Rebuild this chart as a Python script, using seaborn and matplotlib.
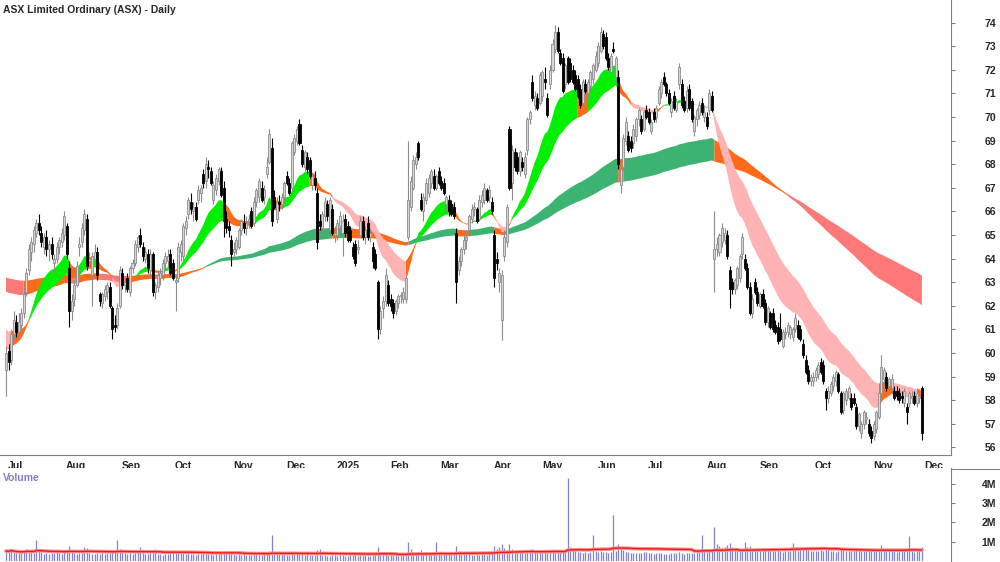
import numpy as np
import pandas as pd
import matplotlib
matplotlib.use("Agg")
import matplotlib.pyplot as plt
import matplotlib.transforms as mtransforms
import seaborn as sns

# === Daily candles (open, high, low, close) ===
ohlc_2024_07 = [(59.3,60.3,58.2,60.0),(60.1,60.4,59.3,59.6),(59.7,61.0,59.5,60.8),(60.8,61.8,60.6,61.4),
    (61.3,61.6,60.7,60.9),(60.9,61.7,60.7,61.3),(61.2,61.9,61.0,61.7),(61.7,62.7,61.5,62.5),
    (62.6,63.6,62.4,63.4),(63.5,64.6,63.3,64.4),(64.3,64.9,63.9,64.7),(64.6,65.4,64.3,65.2),
    (65.1,65.7,64.9,65.5),(65.5,65.9,65.0,65.2),(65.1,65.4,64.5,64.7),(64.5,65.1,64.2,64.9),
    (64.9,65.2,64.1,64.4),(64.4,64.8,63.9,64.6),(64.6,64.9,64.0,64.2),(63.8,64.2,63.4,64.0),
    (64.0,64.7,63.8,64.5),(64.5,64.9,64.2,64.8),(64.7,65.3,64.5,65.1)]
ohlc_2024_08 = [(65.0,66.0,64.8,65.8),(65.4,65.5,64.0,64.2),(63.6,63.9,61.1,61.8),(61.8,62.5,61.4,62.2),
    (62.3,63.1,62.0,62.9),(62.9,63.9,62.8,63.7),(64.5,64.9,64.1,64.6),(64.7,65.5,64.5,65.3),
    (65.2,66.1,65.0,65.9),(65.7,65.9,63.5,63.7),(63.9,64.3,63.7,64.0),(63.3,64.3,62.0,64.1),
    (64.0,64.6,63.7,64.3),(64.3,64.5,63.1,63.3),(62.5,62.6,62.0,62.2),(62.1,62.6,61.9,62.5),
    (62.4,62.9,62.2,62.7),(62.6,63.0,62.3,62.9),(62.8,63.0,61.9,62.0),(61.9,62.0,60.6,61.0),
    (61.2,61.6,60.9,61.1),(61.2,62.1,61.0,61.9)]
ohlc_2024_09 = [(62.0,63.7,61.9,63.5),(63.4,63.6,62.7,62.9),(62.9,63.2,62.6,63.0),(63.2,63.4,62.6,62.7),
    (62.6,63.7,62.4,63.6),(63.6,64.0,63.4,63.8),(63.8,64.8,63.7,64.6),(64.5,65.0,64.3,64.9),
    (65.0,65.3,64.5,64.6),(64.5,64.7,63.9,64.1),(64.0,64.5,63.8,64.3),(64.2,64.4,63.4,63.6),
    (63.5,64.4,63.3,64.2),(64.2,64.3,62.4,62.6),(62.6,63.0,62.3,62.9),(62.8,63.5,62.6,63.3),
    (63.2,63.6,62.9,63.4),(63.3,64.0,63.1,63.8),(63.8,64.3,63.5,64.1),(63.9,64.4,63.6,64.1),
    (64.2,64.4,63.3,63.4)]
ohlc_2024_10 = [(63.8,64.0,63.1,63.2),(63.0,63.3,61.8,63.1),(63.2,64.7,63.0,64.5),(64.3,64.8,63.9,64.6),
    (64.1,65.5,63.9,65.4),(65.3,65.8,65.0,65.6),(65.9,66.6,65.7,66.5),(66.4,66.8,65.9,66.1),
    (66.0,66.4,65.6,66.2),(66.2,66.4,65.6,65.7),(66.5,67.1,66.3,66.9),(66.8,67.1,66.4,67.0),
    (67.6,67.8,67.0,67.2),(67.3,68.3,67.0,68.0),(67.9,68.2,67.4,67.8),(67.7,67.9,67.1,67.2),
    (66.5,67.3,66.3,67.1),(66.9,67.6,66.7,67.4),(67.3,67.9,67.1,67.8),(67.7,67.9,66.6,66.7),
    (67.0,67.3,64.9,65.6),(65.7,66.0,65.1,65.3),(65.4,65.6,64.9,65.2)]
ohlc_2024_11 = [(64.8,65.0,63.7,64.2),(64.3,64.7,64.0,64.4),(64.4,64.9,64.2,64.8),(64.5,65.3,64.4,65.2),
    (65.2,65.7,65.0,65.6),(65.5,65.9,65.1,65.3),(65.3,65.8,65.0,65.5),(65.6,65.9,65.3,65.6),
    (66.0,66.2,65.3,65.4),(65.5,66.6,65.4,66.4),(66.4,67.0,66.2,66.9),(66.6,67.4,66.4,67.3),
    (67.0,67.3,66.4,66.5),(66.6,67.1,66.3,66.9),(67.6,68.3,67.4,67.9),(68.1,69.5,68.0,69.3),
    (68.7,69.1,65.4,65.6),(66.6,66.9,66.1,66.2),(65.7,66.6,65.5,66.4),(66.4,66.7,66.0,66.3),
    (66.3,66.8,66.1,66.6)]
ohlc_2024_12 = [(66.6,67.3,66.4,67.2),(67.5,67.7,67.1,67.2),(67.2,67.4,66.7,66.8),(67.0,69.0,66.9,68.9),
    (68.5,69.3,68.4,69.1),(69.0,69.6,68.8,69.5),(69.7,69.9,68.8,68.9),(68.6,68.8,67.9,68.0),
    (67.9,68.6,67.7,68.5),(68.3,68.5,67.6,67.8),(68.2,68.3,67.4,67.5),(67.1,67.6,66.9,67.5),
    (67.4,67.7,66.9,67.1),(66.8,67.0,64.4,64.7),(65.6,65.9,65.2,65.4),(65.3,66.0,65.1,65.9),
    (65.8,66.6,65.6,66.4),(66.3,66.5,65.6,65.8),(65.2,66.6,65.0,66.5),(66.1,66.3,65.0,65.1)]
ohlc_2025_01 = [(65.0,65.4,64.7,65.1),(65.0,65.7,64.8,65.5),(65.4,66.0,65.2,65.8),(65.1,65.9,64.1,65.6),
    (65.7,65.9,64.9,65.1),(65.4,65.6,64.7,64.8),(65.2,65.4,64.7,64.8),(64.5,64.7,64.0,64.1),
    (64.6,64.8,63.7,63.8),(64.4,64.8,64.2,64.5),(65.0,65.8,64.9,65.6),(65.6,65.8,64.8,64.9),
    (64.9,65.4,64.6,65.2),(65.5,65.8,64.8,64.9),(64.9,65.3,64.7,65.1),(64.5,64.7,63.6,63.9),
    (64.2,64.4,63.5,63.6),(63.0,63.1,60.6,61.0),(61.0,62.0,60.8,61.8),(61.9,62.4,61.5,62.2),
    (62.2,63.6,62.0,63.3)]
ohlc_2025_02 = [(62.9,63.1,62.0,62.1),(62.3,62.5,61.8,62.0),(62.1,62.3,61.5,61.7),(61.8,62.3,61.6,62.2),
    (62.1,62.5,61.9,62.4),(62.4,62.6,62.1,62.4),(62.3,62.8,62.1,62.6),(62.3,63.3,62.1,63.2),
    (64.9,69.0,64.8,66.5),(66.2,67.5,66.0,67.3),(67.0,68.4,66.9,68.2),(68.0,68.5,67.8,68.3),
    (68.9,69.0,68.2,68.3),(66.5,66.8,66.0,66.1),(66.0,66.8,65.6,66.6),(66.5,67.4,66.3,67.2),
    (66.8,67.6,66.6,67.4),(67.2,67.8,67.0,67.7),(67.5,67.8,66.9,67.0),(67.0,67.6,66.9,67.5)]
ohlc_2025_03 = [(67.7,67.9,67.1,67.2),(67.3,67.5,66.9,67.0),(67.2,67.4,66.7,66.8),(66.3,66.7,66.0,66.6),
    (66.5,66.7,65.8,66.0),(66.3,66.5,65.8,65.9),(66.2,66.4,65.7,65.8),(65.1,65.3,62.1,63.0),
    (63.5,64.1,63.3,63.9),(63.9,64.5,63.7,64.4),(64.4,65.0,64.2,64.8),(64.8,65.2,64.4,64.9),
    (65.2,65.9,65.0,65.8),(65.7,66.3,65.5,66.1),(66.1,66.4,65.8,66.2),(66.1,66.2,65.5,65.6),
    (65.7,66.7,65.6,66.5),(66.4,66.9,66.2,66.7),(66.5,67.2,66.3,67.0),(66.9,67.0,66.4,66.5),
    (66.6,67.1,66.4,66.9)]
ohlc_2025_04 = [(66.4,66.6,65.9,66.0),(65.0,65.2,62.8,63.2),(64.0,64.3,63.5,63.8),(63.0,63.6,62.6,63.4),
    (61.4,63.5,60.55,63.3),(64.1,65.2,63.9,64.9),(64.7,66.3,64.5,66.2),(69.5,69.6,66.9,67.0),
    (67.2,68.8,66.5,68.6),(68.5,68.7,67.7,67.9),(68.3,68.5,67.6,67.7),(67.7,68.6,67.5,68.5),
    (68.1,68.3,67.7,67.9),(67.6,68.5,67.4,68.3),(68.6,70.0,68.4,69.9),(69.9,70.3,69.7,70.2),
    (71.5,71.8,70.7,70.8),(70.5,71.1,70.3,70.9),(70.8,71.0,70.3,70.4)]
ohlc_2025_05 = [(70.6,71.9,70.5,71.8),(70.9,72.0,70.7,71.9),(71.6,72.1,71.2,71.5),(70.8,71.0,70.0,70.1),
    (71.4,72.2,71.2,72.0),(72.0,73.3,71.9,73.1),(72.9,73.9,72.7,73.6),(73.6,73.8,72.7,72.8),
    (72.7,72.9,72.2,72.3),(72.5,72.7,71.0,71.1),(71.4,72.3,71.2,72.2),(72.5,72.6,71.4,71.5),
    (72.3,72.5,71.5,71.6),(72.0,72.2,71.4,71.5),(71.8,72.0,71.1,71.2),(71.6,71.8,70.8,70.9),
    (71.2,71.4,70.4,70.5),(70.6,71.6,70.4,71.5),(71.4,71.6,71.0,71.1),(71.0,71.6,70.8,71.5),
    (71.3,72.0,71.1,71.9),(71.6,72.3,71.4,72.2)]
ohlc_2025_06 = [(72.0,72.8,71.9,72.6),(72.3,73.2,72.1,73.0),(72.8,73.8,72.7,73.6),(73.5,73.7,72.9,73.0),
    (73.4,73.6,72.4,72.5),(72.5,72.7,72.0,72.1),(71.9,72.7,71.7,72.6),(72.9,73.2,72.7,72.8),
    (71.7,72.6,71.5,72.5),(71.7,72.0,67.8,68.0),(67.1,68.0,66.8,67.8),(67.9,69.3,67.7,69.1),
    (69.0,70.0,68.8,69.8),(69.2,69.4,68.5,68.6),(69.0,69.2,68.5,68.7),(68.9,69.7,68.7,69.5),
    (69.2,70.0,69.0,69.9),(69.9,70.4,69.6,70.3),(69.9,70.1,69.3,69.4),(69.5,70.3,69.4,70.2)]
ohlc_2025_07 = [(70.3,70.5,69.9,70.0),(70.2,70.4,69.7,69.8),(69.4,69.9,69.3,69.8),(70.2,70.4,69.8,69.9),
    (70.0,70.5,69.8,70.4),(70.6,71.3,70.5,71.2),(71.0,71.6,70.8,71.5),(71.7,71.9,71.3,71.4),
    (71.4,71.5,70.9,71.0),(71.0,71.2,70.5,70.6),(70.2,70.8,70.0,70.7),(70.9,71.1,70.3,70.4),
    (70.3,70.8,70.2,70.7),(71.4,72.3,71.2,72.1),(71.4,71.6,70.4,70.5),(70.7,70.9,70.2,70.3),
    (70.4,71.3,70.2,71.1),(71.2,71.4,70.3,70.4),(70.7,70.8,69.8,69.9),(69.4,70.1,69.2,70.0),
    (69.9,70.4,69.6,70.3),(70.1,70.7,69.9,70.5),(70.6,70.8,70.1,70.2)]
ohlc_2025_08 = [(70.0,70.5,69.8,70.2),(70.0,70.2,69.5,69.6),(70.3,71.2,70.1,71.0),(70.9,71.1,70.2,70.3),
    (64.0,66.0,62.6,64.4),(64.4,64.9,64.1,64.6),(64.3,65.1,64.1,65.0),(64.7,65.5,64.5,65.3),
    (64.8,65.3,64.6,65.1),(65.0,65.2,64.0,64.1),(63.5,63.7,61.9,62.7),(63.0,63.2,62.5,62.7),
    (62.7,63.2,62.5,63.1),(62.9,63.7,62.7,63.6),(63.2,64.2,63.0,64.1),(64.2,65.1,64.0,64.9),
    (64.0,64.2,63.5,63.6),(63.6,63.8,62.7,62.8),(62.8,63.0,61.6,61.7),(61.7,62.5,61.5,62.3),
    (63.0,63.2,62.5,62.6)]
ohlc_2025_09 = [(62.6,62.8,62.0,62.1),(62.0,62.6,61.9,62.5),(62.5,62.7,61.9,62.0),(62.1,62.3,61.2,61.3),
    (61.3,62.0,61.1,61.9),(61.7,61.8,61.0,61.1),(61.7,61.9,60.9,61.0),(61.2,61.4,60.8,60.9),
    (61.1,61.3,60.4,60.5),(61.0,61.7,60.5,60.6),(60.3,61.0,60.2,60.9),(60.8,61.1,60.6,60.9),
    (60.9,61.3,60.7,61.2),(60.8,61.2,60.6,61.1),(60.7,61.1,60.5,61.0),(61.0,61.7,60.9,61.5),
    (61.2,61.4,60.6,60.7),(61.0,61.2,60.5,60.6),(60.4,60.6,59.8,59.9),(59.7,59.9,59.1,59.2),
    (59.3,59.5,58.7,58.8),(58.8,59.1,58.6,59.0)]
ohlc_2025_10 = [(58.8,59.2,58.6,59.0),(59.0,59.4,58.8,59.3),(59.1,59.6,58.9,59.5),(59.6,59.8,59.1,59.2),
    (59.5,59.7,58.7,58.8),(58.4,58.5,57.6,58.1),(58.1,58.6,57.9,58.4),(58.3,58.8,58.2,58.7),
    (58.6,59.1,58.4,59.0),(58.8,59.3,58.6,59.2),(59.1,59.2,58.3,58.4),(58.3,58.4,57.4,57.5),
    (57.6,58.4,57.4,58.3),(58.0,58.5,57.8,58.4),(58.1,58.6,58.0,58.5),(58.1,58.3,57.6,57.7),
    (58.1,58.3,57.8,57.9),(57.7,57.9,56.8,56.9),(56.9,57.5,56.7,57.4),(56.6,57.1,56.4,57.0),
    (57.0,57.6,56.8,57.5),(57.2,57.5,57.0,57.3),(57.0,57.2,56.5,56.6)]
ohlc_2025_11 = [(56.7,56.9,56.2,56.4),(56.5,57.1,56.3,57.0),(56.8,57.6,56.6,57.5),(57.3,58.4,57.2,58.3),
    (58.3,59.9,58.1,59.4),(58.9,59.4,58.7,59.3),(59.0,59.2,58.4,58.5),(58.6,59.0,58.4,58.9),
    (58.5,59.1,58.3,58.9),(58.4,58.6,58.0,58.1),(58.4,58.6,58.0,58.2),(58.3,58.5,57.9,58.0),
    (58.2,58.4,57.9,58.1),(57.9,58.5,57.7,58.4),(57.7,57.9,57.0,57.5),(57.9,58.4,57.7,58.3),
    (58.1,58.4,57.9,58.1),(58.2,58.4,57.8,57.9),(57.9,58.5,57.7,58.3),(58.1,58.3,57.9,58.2)]
ohlc_2025_12 = [(58.5,58.6,56.3,56.6)]

# === Daily volume, thousands of shares ===
vol_2024_07 = [520,480,610,450,420,390,460,510,600,550,480,420,1100,520,450,380,410,360,430,390,470,420,380]
vol_2024_08 = [480,520,760,560,430,380,410,440,720,690,420,380,350,400,370,420,360,390,410,450,520,1100]
vol_2024_09 = [620,450,390,360,410,380,420,450,740,400,380,360,420,390,610,380,350,330,370,340,390]
vol_2024_10 = [420,480,450,390,410,380,420,360,350,330,370,340,400,450,380,350,330,360,340,390,430,520,380]
vol_2024_11 = [420,360,330,350,310,340,330,300,320,360,340,310,330,380,450,520,1350,410,380,340,390]
vol_2024_12 = [350,320,300,480,420,380,440,360,330,340,310,300,330,560,620,320,290,280,260,300]
vol_2025_01 = [290,280,300,310,280,270,290,300,320,280,310,290,300,280,270,330,350,720,480,380,340]
vol_2025_02 = [330,310,290,300,280,310,290,320,1000,620,480,420,450,560,430,380,400,360,420,1000]
vol_2025_03 = [420,380,360,400,350,330,380,760,520,420,380,360,340,330,310,350,320,340,360,330,380]
vol_2025_04 = [420,780,620,700,880,650,560,860,620,520,480,440,450,420,560,500,620,480,450]
vol_2025_05 = [520,480,460,550,500,620,580,520,480,560,510,4300,700,560,500,480,450,420,460,440,480,1350]
vol_2025_06 = [520,480,500,460,450,430,480,2400,520,900,680,560,480,450,430,420,440,410,430,460]
vol_2025_07 = [450,420,400,380,410,430,390,370,360,380,400,420,390,450,420,380,400,420,440,410,460,480,1350]
vol_2025_08 = [520,480,560,540,1750,880,760,650,700,820,920,720,650,600,580,620,1000,700,760,640,560]
vol_2025_09 = [600,540,520,580,560,520,500,540,560,520,480,500,540,520,950,560,540,600,580,620,560,520]
vol_2025_10 = [540,520,500,560,540,620,560,520,500,480,540,620,560,520,500,540,580,620,560,540,520,500,560]
vol_2025_11 = [620,580,560,640,820,620,560,540,520,500,480,520,540,500,560,1300,520,480,500,560]
vol_2025_12 = [750]

# ASX holidays in the window (no trading)
holidays = ["2024-12-25", "2024-12-26", "2025-01-01", "2025-01-27",
            "2025-04-18", "2025-04-21", "2025-04-25", "2025-06-09"]

# moving-average ribbons: periods and the starting values read at the left edge
short_periods = [18, 26, 35]
short_start = [60.2, 60.6, 61.0]
long_periods = [130, 165, 200]
long_start = [62.6, 62.9, 63.2]

# === Assemble ===
ohlc = (ohlc_2024_07 + ohlc_2024_08 + ohlc_2024_09 + ohlc_2024_10 + ohlc_2024_11 + ohlc_2024_12
        + ohlc_2025_01 + ohlc_2025_02 + ohlc_2025_03 + ohlc_2025_04 + ohlc_2025_05 + ohlc_2025_06
        + ohlc_2025_07 + ohlc_2025_08 + ohlc_2025_09 + ohlc_2025_10 + ohlc_2025_11 + ohlc_2025_12)
vols = (vol_2024_07 + vol_2024_08 + vol_2024_09 + vol_2024_10 + vol_2024_11 + vol_2024_12
        + vol_2025_01 + vol_2025_02 + vol_2025_03 + vol_2025_04 + vol_2025_05 + vol_2025_06
        + vol_2025_07 + vol_2025_08 + vol_2025_09 + vol_2025_10 + vol_2025_11 + vol_2025_12)

dates = pd.bdate_range("2024-07-01", "2025-12-01")
dates = dates[~dates.isin(pd.to_datetime(holidays))]

df = pd.DataFrame(ohlc, columns=["open", "high", "low", "close"])
df["volume"] = np.array(vols) * 1000.0
df["date"] = dates[:len(df)]
df["i"] = np.arange(len(df))
df["vol_ma"] = df["volume"].rolling(50, min_periods=1).mean()
x = df["i"].values


def ema(close, n, start):
    a = 2.0 / (n + 1)
    out = np.empty(len(close))
    out[0] = start
    for t in range(1, len(close)):
        out[t] = out[t - 1] + a * (close[t] - out[t - 1])
    return out


def ribbon(ax, periods, starts, colors, z):
    E = np.vstack([ema(df["close"].values, n, s) for n, s in zip(periods, starts)])
    lo, hi = E.min(0), E.max(0)
    d = np.diff(E, axis=1)
    d = np.hstack([d[:, :1], d])
    rising = (d > 0).all(0)
    falling = (d < 0).all(0)
    fast_on_top = E[0] > E[-1]
    state = np.where(rising & fast_on_top, 0, np.where(falling & ~fast_on_top, 2, 1))
    for k, c in enumerate(colors):
        m = state == k
        m = m | np.r_[False, m[:-1]]
        ax.fill_between(x, lo, hi, where=m, color=c, lw=0, zorder=z)


# === Figure ===
sns.set_style("white")
plt.rcParams["font.family"] = ["Liberation Sans", "DejaVu Sans"]

fig = plt.figure(figsize=(10, 5.62), dpi=100)
ax = fig.add_axes([0, 107 / 562, 0.951, 455 / 562])
axv = fig.add_axes([0, 1 / 562, 0.951, 93 / 562])

xlim = (-2.37, 373.5)

# ribbons
ribbon(ax, long_periods, long_start, ["#3cb371", "#ff6a1a", "#ff7878"], 1)
ribbon(ax, short_periods, short_start, ["#00f000", "#ff6a1a", "#ffb3b3"], 2)

# candles
up = (df["close"] >= df["open"]).values
o, h, l, c = (df[k].values for k in ["open", "high", "low", "close"])
body_lo = np.minimum(o, c)
body_h = np.maximum(np.abs(c - o), 0.07)
ax.vlines(x[up], l[up], h[up], color="#8c8c8c", lw=0.8, zorder=3)
ax.vlines(x[~up], l[~up], h[~up], color="black", lw=0.8, zorder=3)
ax.bar(x[up], body_h[up], bottom=body_lo[up], width=0.8, color="#d6d6d6",
       edgecolor="#8c8c8c", linewidth=0.6, zorder=4)
ax.bar(x[~up], body_h[~up], bottom=body_lo[~up], width=0.8, color="black",
       edgecolor="black", linewidth=0.6, zorder=4)

ax.set_xlim(*xlim)
ax.set_ylim(55.68, 74.96)
for s in ["left", "top"]:
    ax.spines[s].set_visible(False)
for s in ["right", "bottom"]:
    ax.spines[s].set_color("#808080")
    ax.spines[s].set_linewidth(0.8)

ax.yaxis.tick_right()
ax.set_yticks(range(56, 75))
ax.tick_params(axis="y", direction="out", length=3, width=0.8, color="#808080",
               labelsize=7.5, pad=21)

# month ticks
month_start = df.groupby(df["date"].dt.to_period("M"))["i"].min()
month_labels = [p.strftime("%b") if p.month != 1 else str(p.year) for p in month_start.index]
ax.set_xticks(month_start.values)
ax.set_xticklabels(month_labels)
ax.tick_params(axis="x", direction="out", length=3, width=0.8, color="#808080",
               labelsize=7.5, pad=1)
shift = mtransforms.ScaledTranslation(2 / 100, 0, fig.dpi_scale_trans)
for lbl in ax.get_xticklabels():
    lbl.set_horizontalalignment("left")
    lbl.set_transform(lbl.get_transform() + shift)
for lbl in ax.get_xticklabels() + ax.get_yticklabels():
    lbl.set_fontweight("bold")

ax.set_xlabel("")
ax.set_ylabel("")

# volume panel
axv.vlines(x, 0, df["volume"].values, color="#8383cc", lw=0.9)
sns.lineplot(x=x, y=df["vol_ma"].values, ax=axv, color="#ff8c8c", lw=2.6)
sns.lineplot(x=x, y=df["vol_ma"].values, ax=axv, color="#e81c1c", lw=1.0)
axv.set_xlim(*xlim)
axv.set_ylim(0, 4.82e6)
for s in ["left", "top", "bottom"]:
    axv.spines[s].set_visible(False)
axv.spines["right"].set_color("#808080")
axv.spines["right"].set_linewidth(0.8)
axv.yaxis.tick_right()
axv.set_yticks([1e6, 2e6, 3e6, 4e6])
axv.set_yticklabels(["1M", "2M", "3M", "4M"], fontweight="bold")
axv.tick_params(axis="y", direction="out", length=3, width=0.8, color="#808080",
                labelsize=7.5, pad=19)
axv.set_xticks([])

fig.add_artist(plt.Line2D([0.951, 1.0], [1 - 469 / 562] * 2, color="#808080", lw=0.8))

fig.text(0.003, 1 - 10 / 562, "ASX Limited Ordinary (ASX) - Daily", fontsize=7.5,
         fontweight="bold", va="center", ha="left")
fig.text(0.003, 1 - 478 / 562, "Volume", fontsize=7.5, fontweight="bold",
         color="#8080c0", va="center", ha="left")

fig.savefig("out.png", dpi=100)
